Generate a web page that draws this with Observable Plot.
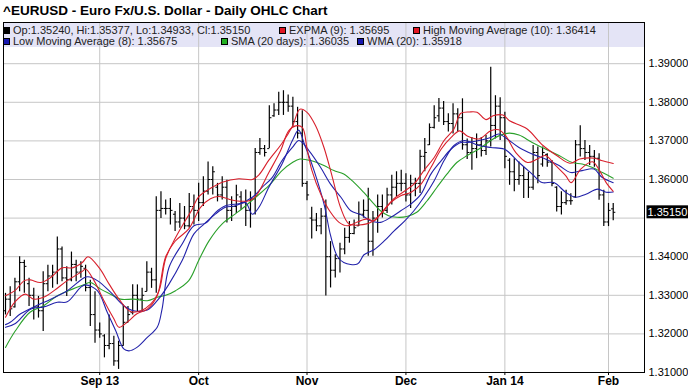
<!DOCTYPE html>
<html><head><meta charset="utf-8">
<script src="https://cdn.jsdelivr.net/npm/d3@7"></script>
<script src="https://cdn.jsdelivr.net/npm/@observablehq/plot@0.6"></script>
<style>
body{margin:0;background:#fff;}
#wrap{position:relative;width:688px;height:392px;overflow:hidden;font-family:"Liberation Sans",Arial,sans-serif;}
#legbg{position:absolute;left:3px;top:22px;width:641px;height:25px;background:#e4e4f6;z-index:0;}
#chart{position:absolute;left:0;top:0;z-index:1;}
#title{position:absolute;left:3px;top:3.5px;font-size:13.5px;font-weight:bold;line-height:13.5px;color:#000;z-index:2;white-space:nowrap;}
.leg{position:absolute;font-size:11px;line-height:11px;color:#222;z-index:2;white-space:nowrap;}
.sw{position:absolute;width:5px;height:5px;border:1px solid #000;z-index:2;}
</style></head>
<body>
<div id="wrap">
  <div id="legbg"></div>
  <div id="chart"></div>
  <div id="title"></div>
</div>
<script>
const titleText = "^EURUSD - Euro Fx/U.S. Dollar - Daily OHLC Chart";
const monthTickIdx = [20, 41, 64, 85, 106, 128];
const monthLabels = ["Sep 13", "Oct", "Nov", "Dec", "Jan 14", "Feb"];
const yGridTicks = [1.31, 1.32, 1.33, 1.34, 1.35, 1.36, 1.37, 1.38, 1.39];
const yLabelTicks = [1.31, 1.32, 1.33, 1.34, 1.36, 1.37, 1.38, 1.39];

const opens = [1.3260,1.3290,1.3270,1.3335,1.3385,1.3330,1.3300,1.3270,1.3260,1.3330,
 1.3350,1.3360,1.3420,1.3345,1.3340,1.3380,1.3360,1.3370,1.3320,1.3250,
 1.3210,1.3195,1.3170,1.3175,1.3130,1.3170,1.3230,1.3255,1.3300,1.3290,
 1.3310,1.3360,1.3340,1.3520,1.3525,1.3525,1.3510,1.3490,1.3500,1.3480,
 1.3530,1.3520,1.3540,1.3570,1.3600,1.3580,1.3560,1.3580,1.3520,1.3530,
 1.3555,1.3540,1.3520,1.3550,1.3670,1.3680,1.3680,1.3765,1.3780,1.3800,
 1.3800,1.3790,1.3750,1.3720,1.3590,1.3500,1.3495,1.3480,1.3505,1.3400,
 1.3365,1.3395,1.3420,1.3450,1.3460,1.3480,1.3510,1.3520,1.3440,1.3500,
 1.3530,1.3520,1.3560,1.3580,1.3590,1.3590,1.3560,1.3590,1.3590,1.3660,
 1.3690,1.3735,1.3765,1.3785,1.3750,1.3745,1.3770,1.3760,1.3690,1.3670,
 1.3680,1.3690,1.3675,1.3700,1.3740,1.3790,1.3760,1.3650,1.3620,1.3600,
 1.3610,1.3600,1.3580,1.3670,1.3640,1.3665,1.3645,1.3580,1.3530,1.3540,
 1.3545,1.3555,1.3690,1.3680,1.3670,1.3660,1.3655,1.3560,1.3490,1.35240];
const highs = [1.3305,1.3322,1.3344,1.3400,1.3391,1.3344,1.3318,1.3297,1.3361,1.3378,
 1.3378,1.3451,1.3425,1.3374,1.3412,1.3391,1.3387,1.3378,1.3339,1.3309,
 1.3228,1.3198,1.3249,1.3194,1.3181,1.3275,1.3271,1.3327,1.3327,1.3318,
 1.3387,1.3370,1.3555,1.3568,1.3547,1.3551,1.3517,1.3538,1.3530,1.3564,
 1.3560,1.3590,1.3607,1.3645,1.3633,1.3590,1.3607,1.3598,1.3555,1.3585,
 1.3568,1.3573,1.3568,1.3680,1.3706,1.3688,1.3791,1.3796,1.3826,1.3830,
 1.3819,1.3813,1.3787,1.3778,1.3595,1.3528,1.3512,1.3525,1.3547,1.3439,
 1.3405,1.3435,1.3474,1.3491,1.3495,1.3542,1.3547,1.3577,1.3517,1.3560,
 1.3560,1.3577,1.3611,1.3620,1.3624,1.3615,1.3611,1.3603,1.3676,1.3706,
 1.3744,1.3791,1.3810,1.3802,1.3770,1.3796,1.3783,1.3809,1.3705,1.3709,
 1.3718,1.3709,1.3714,1.3891,1.3817,1.3812,1.3774,1.3654,1.3654,1.3645,
 1.3632,1.3619,1.3688,1.3684,1.3684,1.3667,1.3649,1.3581,1.3568,1.3572,
 1.3563,1.3701,1.3739,1.3701,1.3688,1.3675,1.3667,1.3572,1.3538,1.35377];
const lows = [1.3249,1.3245,1.3267,1.3309,1.3305,1.3271,1.3236,1.3241,1.3206,1.3309,
 1.3318,1.3327,1.3335,1.3297,1.3335,1.3335,1.3344,1.3309,1.3219,1.3176,
 1.3189,1.3138,1.3159,1.3116,1.3108,1.3168,1.3228,1.3249,1.3258,1.3258,
 1.3309,1.3318,1.3305,1.3499,1.3508,1.3482,1.3465,1.3474,1.3470,1.3474,
 1.3482,1.3491,1.3530,1.3560,1.3560,1.3542,1.3547,1.3487,1.3491,1.3512,
 1.3521,1.3478,1.3474,1.3508,1.3663,1.3658,1.3680,1.3761,1.3766,1.3766,
 1.3774,1.3736,1.3705,1.3580,1.3545,1.3446,1.3465,1.3457,1.3298,1.3319,
 1.3345,1.3358,1.3405,1.3435,1.3457,1.3478,1.3500,1.3401,1.3401,1.3461,
 1.3500,1.3512,1.3534,1.3555,1.3568,1.3542,1.3525,1.3555,1.3564,1.3620,
 1.3688,1.3731,1.3748,1.3740,1.3723,1.3718,1.3723,1.3676,1.3652,1.3624,
 1.3654,1.3658,1.3662,1.3684,1.3705,1.3701,1.3628,1.3585,1.3568,1.3585,
 1.3551,1.3551,1.3572,1.3589,1.3632,1.3632,1.3581,1.3516,1.3508,1.3533,
 1.3533,1.3551,1.3658,1.3649,1.3636,1.3632,1.3546,1.3478,1.3478,1.34933];
const closes = [1.3290,1.3265,1.3335,1.3385,1.3375,1.3300,1.3270,1.3260,1.3330,1.3350,
 1.3360,1.3420,1.3345,1.3340,1.3380,1.3360,1.3375,1.3320,1.3250,1.3210,
 1.3200,1.3170,1.3175,1.3130,1.3170,1.3230,1.3250,1.3300,1.3290,1.3300,
 1.3360,1.3340,1.3520,1.3525,1.3525,1.3520,1.3490,1.3500,1.3480,1.3530,
 1.3520,1.3540,1.3570,1.3600,1.3620,1.3560,1.3580,1.3520,1.3530,1.3560,
 1.3540,1.3520,1.3550,1.3670,1.3680,1.3670,1.3760,1.3780,1.3800,1.3800,
 1.3790,1.3750,1.3720,1.3590,1.3560,1.3495,1.3480,1.3505,1.3400,1.3365,
 1.3395,1.3420,1.3450,1.3460,1.3475,1.3510,1.3520,1.3440,1.3500,1.3530,
 1.3520,1.3560,1.3580,1.3590,1.3590,1.3560,1.3590,1.3590,1.3660,1.3670,
 1.3735,1.3760,1.3785,1.3750,1.3745,1.3770,1.3760,1.3690,1.3670,1.3680,
 1.3690,1.3675,1.3700,1.3740,1.3790,1.3760,1.3660,1.3620,1.3600,1.3610,
 1.3600,1.3580,1.3670,1.3610,1.3670,1.3645,1.3590,1.3530,1.3540,1.3545,
 1.3545,1.3690,1.3680,1.3670,1.3660,1.3655,1.3560,1.3490,1.3520,1.35150];

// Indicator lines as [bar index, value]
const highMA = [[0,1.3299],[2,1.3312],[4,1.3338],[5.3,1.3340],[7.4,1.3333],[9.6,1.3346],[12,1.3371],[14.2,1.3371],[16.3,1.3385],[17.5,1.3400],[19.9,1.3371],[22,1.3329],[24.1,1.3290],[26.5,1.3258],[28.7,1.3260],[30.8,1.3277],[32.6,1.3312],[34,1.3395],[36,1.3447],[38,1.3490],[39.5,1.3520],[41,1.3555],[43.9,1.3580],[46,1.3593],[49.5,1.3602],[52.4,1.3600],[53.8,1.3612],[55.9,1.3650],[58.7,1.3694],[60.9,1.3738],[62.5,1.3782],[64,1.3774],[65.8,1.3740],[67.6,1.3683],[69.4,1.3605],[71.1,1.3528],[72.9,1.3485],[75,1.3482],[78,1.3492],[80,1.3515],[82.4,1.3550],[84.6,1.3569],[86.7,1.3588],[88.8,1.3623],[91,1.3657],[93.1,1.3701],[95.2,1.3731],[96.6,1.3771],[98.5,1.3775],[100.1,1.3774],[102,1.3755],[103.5,1.3765],[105.6,1.3767],[107,1.3752],[110.6,1.3732],[114.1,1.3688],[117,1.3662],[119.8,1.3642],[121.9,1.3653],[125.1,1.3655],[126.5,1.3649],[129,1.36414]];
const expMA = [[0,1.3243],[2.1,1.3284],[4.2,1.3303],[6,1.3290],[8.1,1.3295],[10.3,1.3312],[13.1,1.3338],[16.3,1.3362],[17,1.3368],[18.8,1.3338],[20.9,1.3286],[23,1.3239],[24.1,1.3217],[25.8,1.3230],[27.9,1.3252],[30.1,1.3264],[32.2,1.3299],[34,1.3400],[36,1.3440],[38.9,1.3472],[41.4,1.3528],[43.5,1.3550],[45.3,1.3556],[47.1,1.3550],[48.8,1.3545],[51.7,1.3545],[53.1,1.3556],[55.9,1.3618],[58.4,1.3675],[60.1,1.3726],[61.6,1.3739],[63,1.3735],[64,1.3680],[65,1.3625],[67,1.3560],[69,1.3515],[70.8,1.3489],[72.6,1.3480],[74.7,1.3490],[76.8,1.3498],[78.2,1.3493],[79.6,1.3511],[81.8,1.3541],[83.9,1.3558],[86.1,1.3567],[88.2,1.3588],[90.3,1.3631],[92.5,1.3679],[94.6,1.3709],[96.4,1.3726],[98.1,1.3712],[100.5,1.3705],[103,1.3726],[104.7,1.3729],[106.2,1.3713],[108.3,1.3670],[110.8,1.3644],[112.9,1.3653],[114.6,1.3662],[116.8,1.3636],[118.9,1.3610],[120.1,1.3592],[122.1,1.3627],[124.6,1.3646],[126.1,1.3623],[127.5,1.3592],[129,1.35695]];
const lowMA = [[0,1.3217],[2.1,1.3227],[5.3,1.3264],[8.1,1.3270],[11,1.3282],[13.1,1.3283],[15.9,1.3320],[17,1.3327],[19.5,1.3312],[21.6,1.3256],[23.4,1.3208],[25.1,1.3161],[26.2,1.3156],[27.9,1.3165],[30.1,1.3191],[32.2,1.3217],[33.2,1.3262],[34.7,1.3372],[37.5,1.3433],[40,1.3480],[42.5,1.3487],[44.6,1.3515],[46.7,1.3532],[49.5,1.3537],[51,1.3540],[52.4,1.3510],[53.8,1.3528],[55.9,1.3580],[58.7,1.3640],[60.9,1.3701],[62.2,1.3728],[63.5,1.3690],[65.5,1.3623],[67.6,1.3537],[69,1.3455],[70.4,1.3402],[71.8,1.3385],[74.7,1.3381],[76.1,1.3405],[78.2,1.3418],[80.4,1.3441],[82.5,1.3467],[84.6,1.3491],[86.7,1.3519],[88.8,1.3554],[91,1.3597],[93.1,1.3649],[95.2,1.3688],[97.4,1.3701],[100.5,1.3688],[103,1.3683],[105.8,1.3679],[106.9,1.3670],[109,1.3644],[111.8,1.3614],[113.9,1.3592],[116.4,1.3592],[118.9,1.3567],[121,1.3554],[123.2,1.3562],[125.7,1.3575],[127.5,1.3567],[129,1.35675]];
const smaMA = [[0,1.3165],[2.1,1.3208],[5.2,1.3256],[8.1,1.3273],[11,1.3299],[14.2,1.3316],[16.6,1.3327],[18,1.3333],[20.2,1.3316],[22.3,1.3303],[24.4,1.3290],[27.2,1.3290],[30.1,1.3286],[32.2,1.3295],[34,1.3300],[36.1,1.3312],[38.9,1.3338],[41,1.3390],[43.2,1.3441],[46,1.3485],[48.8,1.3511],[51,1.3532],[53.1,1.3554],[55.9,1.3584],[58.7,1.3623],[60.9,1.3644],[62.5,1.3653],[64.8,1.3649],[67.6,1.3636],[69.7,1.3623],[71.8,1.3614],[73.9,1.3593],[76,1.3567],[78.2,1.3537],[79.6,1.3519],[81.3,1.3506],[83.1,1.3502],[85.2,1.3504],[87.3,1.3515],[89.5,1.3545],[91.6,1.3580],[93.7,1.3614],[95.8,1.3644],[98,1.3662],[100.5,1.3679],[103,1.3701],[104.7,1.3713],[106.9,1.3720],[109,1.3715],[111.8,1.3696],[114.6,1.3679],[117.5,1.3662],[120.3,1.3644],[122.4,1.3640],[124.6,1.3631],[126.7,1.3618],[129,1.36035]];
const wmaMA = [[0,1.3224],[1,1.3230],[3.2,1.3252],[6,1.3270],[9.6,1.3290],[13.1,1.3312],[16.6,1.3345],[17.5,1.3348],[19.5,1.3338],[22.3,1.3308],[25.1,1.3273],[27.2,1.3260],[30.1,1.3262],[32.2,1.3286],[34.7,1.3329],[37.5,1.3390],[40,1.3459],[42.2,1.3485],[44.6,1.3511],[46.7,1.3528],[48.8,1.3532],[52.4,1.3554],[54.5,1.3580],[56.6,1.3605],[58.7,1.3649],[60.9,1.3683],[62.3,1.3701],[64.4,1.3675],[66.9,1.3631],[69,1.3588],[71.2,1.3554],[73.3,1.3519],[75.4,1.3509],[77.5,1.3493],[79.6,1.3489],[81.8,1.3502],[83.9,1.3519],[86.1,1.3537],[88.2,1.3562],[90.3,1.3614],[92.5,1.3649],[94.6,1.3679],[96.7,1.3696],[98.1,1.3696],[100.5,1.3701],[103,1.3709],[104.7,1.3718],[106.5,1.3705],[109,1.3683],[111.8,1.3666],[114.6,1.3653],[117.5,1.3636],[120,1.3618],[122.4,1.3623],[124.9,1.3627],[126.7,1.3605],[129,1.35918]];

const seriesNames = ["EXPMA (9)", "High Moving Average (10)", "Low Moving Average (8)", "SMA (20 days)", "WMA (20)"];
const legendValues = [1.35695, 1.36414, 1.35675, 1.36035, 1.35918];

const RED = "#d8202c", BLUE = "#2222aa", GREEN = "#2aa02a";
const last = opens.length - 1;

const bars = highs.map((h, i) => ({i, open: opens[i], high: h, low: lows[i], close: closes[i]}));
const xDomain = [-0.4245, 135.64];
const fmt5 = d => d.toFixed(5);
const lastLabel = fmt5(closes[last]);

const chart = Plot.plot({
  width: 688, height: 392,
  marginTop: 22, marginBottom: 20, marginLeft: 3, marginRight: 44,
  style: {background: "transparent", fontFamily: "'Liberation Sans', Arial, sans-serif", fontSize: "11px", color: "#000", overflow: "visible"},
  x: {domain: xDomain, axis: null, label: null},
  y: {domain: [1.31, 1.40067], axis: null, label: null},
  marks: [
    Plot.gridY(yGridTicks, {stroke: "#c6c6c6", strokeOpacity: 1}),
    Plot.gridX(monthTickIdx, {stroke: "#c6c6c6", strokeOpacity: 1}),
    Plot.ruleX(bars, {x: "i", y1: "low", y2: "high", stroke: "#000", strokeWidth: 1.2}),
    Plot.link(bars, {x1: d => d.i - 0.45, x2: "i", y1: "open", y2: "open", stroke: "#000", strokeWidth: 1}),
    Plot.link(bars, {x1: "i", x2: d => d.i + 0.45, y1: "close", y2: "close", stroke: "#000", strokeWidth: 1}),
    Plot.line(smaMA, {x: d => d[0], y: d => d[1], stroke: GREEN, strokeWidth: 1.1, curve: "catmull-rom"}),
    Plot.line(lowMA, {x: d => d[0], y: d => d[1], stroke: BLUE, strokeWidth: 1.1, curve: "catmull-rom"}),
    Plot.line(wmaMA, {x: d => d[0], y: d => d[1], stroke: BLUE, strokeWidth: 1.1, curve: "catmull-rom"}),
    Plot.line(expMA, {x: d => d[0], y: d => d[1], stroke: RED, strokeWidth: 1.1, curve: "catmull-rom"}),
    Plot.line(highMA, {x: d => d[0], y: d => d[1], stroke: RED, strokeWidth: 1.1, curve: "catmull-rom"}),
    Plot.axisY({anchor: "right", ticks: yLabelTicks, tickSize: 0, tickPadding: 4, tickFormat: fmt5, fontSize: 11, fill: "#000", label: null}),
    Plot.axisX({anchor: "bottom", ticks: monthTickIdx, tickSize: 3, tickPadding: 1, fontSize: 12, fontWeight: "bold", fill: "#000", label: null,
      tickFormat: d => monthLabels[monthTickIdx.indexOf(d)]}),
    Plot.frame({stroke: "#000"}),
    Plot.text([closes[last]], {x: () => xDomain[1], y: d => d, text: d => fmt5(d), dx: 3, textAnchor: "start", fill: "#fff", fontSize: 11})
  ]
});
document.getElementById("chart").appendChild(chart);

// black box behind the last-close label
d3.select(chart).selectAll("text").filter(function() { return this.textContent === lastLabel; }).each(function() {
  const bb = this.getBBox();
  const r = d3.select(this.parentNode).insert("rect", () => this)
    .attr("x", bb.x - 1).attr("y", bb.y - 0.5).attr("width", bb.width + 2).attr("height", bb.height + 1)
    .attr("fill", "#000");
  const tr = this.getAttribute("transform");
  if (tr) r.attr("transform", tr);
});

document.getElementById("title").textContent = titleText;

const wrap = document.getElementById("wrap");
const legendItems = [
  {color: "#000", text: `Op:${fmt5(opens[last])}, Hi:${fmt5(highs[last])}, Lo:${fmt5(lows[last])}, Cl:${fmt5(closes[last])}`},
  {color: "#e01522", text: `${seriesNames[0]}: ${fmt5(legendValues[0])}`},
  {color: "#e01522", text: `${seriesNames[1]}: ${fmt5(legendValues[1])}`},
  {color: "#1717b0", text: `${seriesNames[2]}: ${fmt5(legendValues[2])}`},
  {color: "#22b022", text: `${seriesNames[3]}: ${fmt5(legendValues[3])}`},
  {color: "#1717b0", text: `${seriesNames[4]}: ${fmt5(legendValues[4])}`}
];
const legendLayout = [[3, 0], [279, 0], [413, 0], [3, 1], [221, 1], [357, 1]];
legendItems.forEach((it, k) => {
  const [lx, row] = legendLayout[k];
  const sw = document.createElement("div");
  sw.className = "sw";
  sw.style.left = lx + "px";
  sw.style.top = (26.5 + row * 11) + "px";
  sw.style.background = it.color;
  wrap.appendChild(sw);
  const tx = document.createElement("div");
  tx.className = "leg";
  tx.style.left = (lx + 10) + "px";
  tx.style.top = (24.7 + row * 11) + "px";
  tx.textContent = it.text;
  wrap.appendChild(tx);
});
</script>
</body></html>
